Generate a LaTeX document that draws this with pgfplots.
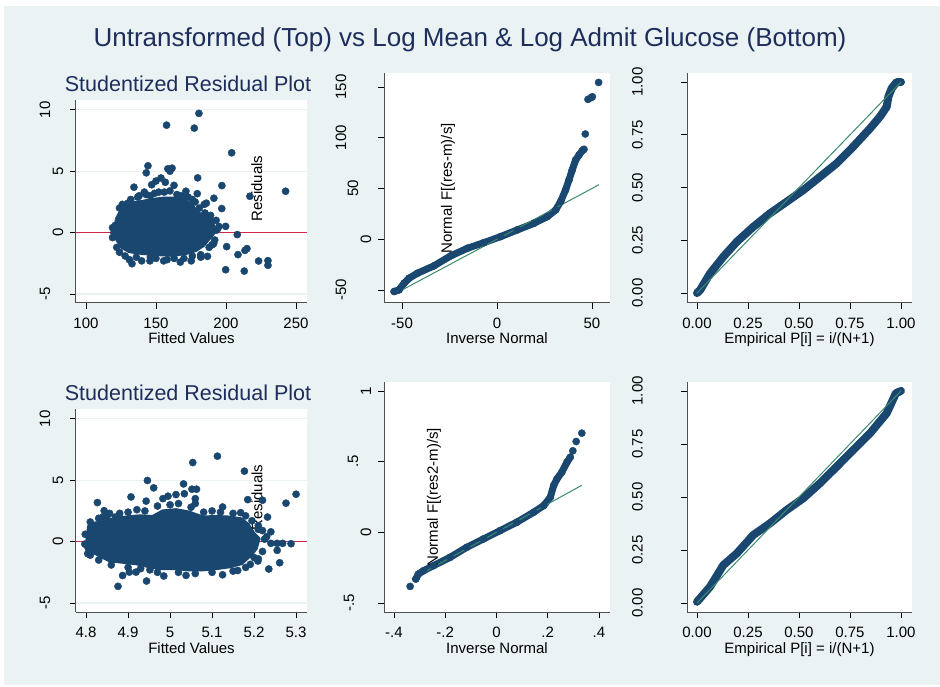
\documentclass[border=0pt]{standalone}
\usepackage{pgfplots}
\pgfplotsset{compat=1.18}
\usepackage{fontspec}
\setmainfont{Liberation Sans}
\definecolor{bg}{HTML}{EAF2F3}
\definecolor{navy}{HTML}{1A476F}
\definecolor{ttl}{HTML}{1E2E5C}
\definecolor{redl}{HTML}{D0264B}
\definecolor{grn}{HTML}{3D8B6D}
\definecolor{axc}{HTML}{505050}
\tikzset{ytl/.style={rotate=90, font=\fontsize{15}{18}\selectfont, inner sep=0pt}}
\pgfplotsset{
  stata/.style={
    scale only axis, clip=false,
    axis x line*=bottom, axis y line*=left,
    axis line style={axc, line width=1pt},
    tick align=outside,
    major tick length=6pt,
    tick style={black, line width=0.8pt},
    minor tick num=0,
    axis background/.style={fill=white},
    tick label style={font=\fontsize{15}{18}\selectfont, text=black},
    yticklabels={},
    xticklabel style={anchor=north, inner sep=0pt, yshift=-9pt},
    xlabel style={at={(axis description cs:0.5,0)}, anchor=base, yshift=-41pt, font=\fontsize{15}{18}\selectfont},
    title style={at={(axis description cs:0.5,1)}, anchor=base, yshift=2pt, xshift=-3.5pt, font=\fontsize{21.5}{24}\selectfont, text=ttl},
  },
  dots/.style={only marks, mark=*, mark size=3.6pt, color=navy, mark options={draw=navy, fill=navy, line width=0.4pt}},
  blob/.style={fill=navy, draw=navy, line width=3pt, line join=round, mark=none},
  band/.style={color=navy, line width=7pt, line cap=round, line join=round, mark=*, mark size=3.6pt, mark options={draw=navy, fill=navy, line width=0.4pt}},
  pband/.style={color=navy, line width=8pt, line cap=round, line join=round, mark=none},
  refl/.style={color=grn, line width=1pt, mark=none},
  zerol/.style={color=redl, line width=1.3pt, mark=none},
}
\begin{document}
\begin{tikzpicture}
\useasboundingbox (0pt,0pt) rectangle (940pt,686pt);
\fill[white] (0pt,0pt) rectangle (940pt,686pt);
\fill[bg] (4pt,1pt) rectangle (940pt,680pt);
\node[anchor=base, text=ttl, font=\fontsize{26}{30}\selectfont] at (470pt,639pt) {Untransformed (Top) vs Log Mean \& Log Admit Glucose (Bottom)};

% ---------- Panel 1: residuals vs fitted (untransformed)
\begin{axis}[stata, at={(76pt,383pt)}, anchor=south west, width=231pt, height=203pt,
  xmin=92.9, xmax=257.9, ymin=-5.73, ymax=10.8,
  xtick={100,150,200,250}, xticklabels={100,150,200,250},
  ytick={-5,0,5,10},
  ymajorgrids, grid style={bg, line width=1.2pt},
  xlabel={Fitted Values}, title={Studentized Residual Plot}]
\addplot[zerol] coordinates {(92.9,0) (257.9,0)};
\addplot[blob] coordinates {
(121.5,1.06) (124,1.6) (128,2.05) (134.5,2.45) (140.5,2.55) (147.6,2.7) (154.8,2.8)
(164.3,2.8) (171.4,2.55) (175.5,2.3) (179,1.74) (183,1.4) (187.5,1.0) (191,0.6)
(191.5,-0.03) (187.5,-0.57) (184,-1.05) (178.6,-1.45) (171.4,-1.7) (161.9,-1.85)
(152.4,-1.8) (140.5,-1.7) (131,-1.55) (125.5,-1.2) (122,-0.57) (121.5,1.06)};
\addplot[dots] coordinates {
(180.7,9.71) (157.6,8.75) (177.4,8.51) (204.1,6.5) (242.6,3.37) (217.1,2.96) (197.1,3.83)
(179.8,4.46) (197,1.96) (191.4,2.8) (144.3,5.44) (143.1,4.87) (158.5,5.2) (161.5,5.25)
(160,5.0) (134.3,3.7) (141.7,3.3) (156.7,4.1) (153.6,4.45) (147,3.9) (150,4.2) (162.9,3.85)
(171.4,3.37) (179.5,3.17) (184.5,2.3) (186,2.4) (199.8,0.51) (208.1,-0.16) (200.5,-1.14)
(191.2,-0.9) (213.6,-1.45) (215,-1.3) (208.6,-1.79) (199.8,-3.02) (213.1,-3.13) (223.3,-2.31)
(230,-2.28) (230,-2.66) (186.8,-1.93) (182,-2.0) (132.9,-2.53) (139.8,-2.3) (145.7,-2.3)
(155.5,-2.3) (167.4,-2.4) (175.2,-2.3) (193.2,0.2) (124,2.0) (130,2.4) (137,2.9) (146,3.0)
(152,3.3) (165,3.1) (170,2.9) (176,2.7) (186,1.3) (190,0.9) (195,0.5) (190,-1.0) (170,-2.1)
(150,-2.1) (128,-1.9) (122,-1.2) (120,0) (121,0.6)
(126,2.3) (132,2.7) (138,3.0) (143,3.1) (149,3.2) (156,3.3) (160,3.4) (168,3.0) (173,2.9)
(178,2.5) (181,2.0) (185,1.6) (189,1.4) (193,1.0) (194,0.3) (192,-0.6) (188,-1.2) (182,-1.8)
(176,-1.9) (163,-2.1) (158,-2.2) (146,-2.0) (136,-2.0) (131,-2.2) (124,-1.6) (119,-0.4) (119,0.4)};
\node[rotate=90, font=\fontsize{15}{18}\selectfont] at (axis cs:222.1,3.59) {Residuals};
\node[ytl] at ([xshift=-31pt]axis cs:92.9,10) {10};
\node[ytl] at ([xshift=-18pt]axis cs:92.9,5) {5};
\node[ytl] at ([xshift=-18pt]axis cs:92.9,0) {0};
\node[ytl] at ([xshift=-31pt]axis cs:92.9,-5) {-5};
\end{axis}

% ---------- Panel 2: qnorm (untransformed)
\begin{axis}[stata, at={(384pt,383pt)}, anchor=south west, width=226pt, height=230pt,
  xmin=-59.5, xmax=59.5, ymin=-62.8, ymax=163.8,
  xtick={-50,0,50}, xticklabels={-50,0,50},
  ytick={-50,0,50,100,150},
  xlabel={Inverse Normal}]
\addplot[band] coordinates {
(-54.2,-51.5) (-51.6,-49.9) (-48.9,-43.3) (-46.3,-38.4) (-41.9,-33.5) (-33.2,-26.2)
(-24.4,-16.4) (-15.6,-8.9) (-6.8,-3.3) (1.9,2.6) (10.7,9.2) (19.5,15.7) (26.5,22.3)
(30.9,28.9) (33.5,37.1) (36.1,48.6) (37.9,58.4) (39.6,68.2) (41.4,78.1) (43.2,83)
(44.9,87.3) (45.8,88.6)};
\addplot[dots] coordinates {(46.5,103.7) (47.9,137.8) (49.5,139.5) (50.2,140.4) (53.5,154.5)};
\addplot[refl] coordinates {(-53,-53) (53.7,53.7)};
\node[rotate=90, font=\fontsize{15}{18}\selectfont] at (axis cs:-25.8,50.2) {Normal F[(res-m)/s]};
\node[ytl] at ([xshift=-43pt]axis cs:-59.5,150) {150};
\node[ytl] at ([xshift=-43pt]axis cs:-59.5,100) {100};
\node[ytl] at ([xshift=-31pt]axis cs:-59.5,50) {50};
\node[ytl] at ([xshift=-18pt]axis cs:-59.5,0) {0};
\node[ytl] at ([xshift=-43pt]axis cs:-59.5,-50) {-50};
\end{axis}

% ---------- Panel 3: pnorm (untransformed)
\begin{axis}[stata, at={(687pt,383pt)}, anchor=south west, width=225pt, height=230pt,
  xmin=-0.049, xmax=1.054, ymin=-0.047, ymax=1.043,
  xtick={0,0.25,0.5,0.75,1}, xticklabels={0.00,0.25,0.50,0.75,1.00},
  ytick={0,0.25,0.5,0.75,1},
  xlabel={Empirical P[i] = i/(N+1)}]
\addplot[pband] coordinates {
(0,0) (0.015,0.014) (0.064,0.093) (0.129,0.172) (0.195,0.243) (0.276,0.314) (0.358,0.378)
(0.44,0.433) (0.521,0.488) (0.603,0.551) (0.685,0.615) (0.766,0.694) (0.848,0.78)
(0.897,0.836) (0.93,0.883) (0.938,0.93) (0.954,0.97) (0.979,1.0) (1.0,1.0)};
\addplot[refl] coordinates {(0,0) (1,1)};
\node[ytl] at ([xshift=-49.5pt]axis cs:-0.049,1) {1.00};
\node[ytl] at ([xshift=-49.5pt]axis cs:-0.049,0.75) {0.75};
\node[ytl] at ([xshift=-49.5pt]axis cs:-0.049,0.5) {0.50};
\node[ytl] at ([xshift=-49.5pt]axis cs:-0.049,0.25) {0.25};
\node[ytl] at ([xshift=-49.5pt]axis cs:-0.049,0) {0.00};
\end{axis}

% ---------- Panel 4: residuals vs fitted (log)
\begin{axis}[stata, at={(76pt,74pt)}, anchor=south west, width=231pt, height=203pt,
  xmin=4.776, xmax=5.326, ymin=-5.73, ymax=10.8,
  xtick={4.8,4.9,5,5.1,5.2,5.3}, xticklabels={4.8,4.9,5,5.1,5.2,5.3},
  ytick={-5,0,5,10},
  ymajorgrids, grid style={bg, line width=1.2pt},
  xlabel={Fitted Values}, title={Studentized Residual Plot}]
\addplot[zerol] coordinates {(4.776,0) (5.326,0)};
\addplot[blob] coordinates {
(4.802,0.11) (4.806,1.25) (4.8198,1.5) (4.8397,1.62) (4.8635,1.85) (4.8952,2.0) (4.927,2.1)
(4.9587,2.05) (4.9825,2.5) (5.0143,2.6) (5.046,2.4) (5.0778,2.0) (5.1095,2.05) (5.1413,2.0)
(5.17,1.85) (5.186,1.4) (5.2,0.65) (5.212,0.24) (5.205,-0.57) (5.194,-1.05) (5.17,-1.8)
(5.1413,-2.05) (5.1095,-2.2) (5.0778,-2.3) (5.046,-2.3) (5.0143,-2.2) (4.9825,-2.2)
(4.9508,-2.05) (4.919,-1.8) (4.8873,-1.68) (4.8556,-1.55) (4.8317,-1.15) (4.813,-0.8)
(4.804,-0.44) (4.802,0.11)};
\addplot[dots] coordinates {
(5.1127,6.96) (5.054,6.44) (5.177,5.74) (5.30,3.86) (5.276,3.13) (4.946,4.98) (4.961,4.38)
(4.907,3.64) (4.827,3.18) (5.032,4.7) (5.052,4.27) (5.063,4.27) (4.943,3.3) (4.983,3.5)
(4.995,3.7) (5.014,3.83) (5.034,3.9) (5.06,3.5) (5.06,3.1) (5.185,3.42) (5.22,3.37)
(5.125,2.82) (4.843,2.52) (4.921,2.6) (4.856,2.3) (5.168,2.36) (5.232,2.0) (5.24,-0.14)
(5.255,-0.14) (5.268,-0.14) (5.288,-0.17) (5.255,-0.71) (5.261,-1.72) (5.235,-2.23)
(5.209,-1.58) (5.191,-1.85) (4.876,-3.64) (4.944,-3.21) (4.887,-2.76) (4.903,-2.48)
(4.919,-2.48) (5.125,-2.7) (5.038,-2.75) (4.985,-2.8) (4.952,-2.3) (5.161,-2.35)
(4.805,-0.52) (4.804,-0.98) (5.22,0.9) (5.23,0.4) (5.21,1.3) (5.2,-1.3) (5.24,0.8)
(5.1,2.5) (5.0,3.0) (4.88,2.3) (4.84,2.0)
(4.81,1.6) (4.83,1.9) (4.85,2.1) (4.87,2.0) (4.9,2.4) (4.94,2.5) (4.97,2.9) (5.02,3.1)
(5.05,2.8) (5.08,2.4) (5.12,2.4) (5.15,2.3) (5.18,2.1) (5.195,1.7) (5.21,1.0) (5.225,0.2)
(5.22,-0.8) (5.21,-1.4) (5.18,-2.1) (5.15,-2.4) (5.1,-2.5) (5.06,-2.6) (5.02,-2.5)
(4.97,-2.5) (4.93,-2.2) (4.9,-2.1) (4.86,-1.9) (4.83,-1.5) (4.81,-1.1) (4.797,-0.2) (4.798,0.6)};
\node[rotate=90, font=\fontsize{15}{18}\selectfont] at (axis cs:5.207,3.59) {Residuals};
\node[ytl] at ([xshift=-31pt]axis cs:4.776,10) {10};
\node[ytl] at ([xshift=-18pt]axis cs:4.776,5) {5};
\node[ytl] at ([xshift=-18pt]axis cs:4.776,0) {0};
\node[ytl] at ([xshift=-31pt]axis cs:4.776,-5) {-5};
\end{axis}

% ---------- Panel 5: qnorm (log)
\begin{axis}[stata, at={(384pt,74pt)}, anchor=south west, width=226pt, height=230pt,
  xmin=-0.439, xmax=0.443, ymin=-0.564, ymax=1.064,
  xtick={-0.4,-0.2,0,0.2,0.4}, xticklabels={-.4,-.2,0,.2,.4},
  ytick={-0.5,0,0.5,1},
  xlabel={Inverse Normal}]
\addplot[dots] coordinates {(-0.337,-0.383)};
\addplot[band] coordinates {
(-0.315,-0.331) (-0.305,-0.296) (-0.285,-0.272) (-0.246,-0.236) (-0.181,-0.177)
(-0.116,-0.106) (-0.051,-0.047) (0.014,0.012) (0.079,0.071) (0.145,0.142) (0.184,0.189)
(0.21,0.248) (0.223,0.331) (0.236,0.378) (0.255,0.426) (0.275,0.496) (0.288,0.532)};
\addplot[dots] coordinates {(0.298,0.577) (0.311,0.643) (0.333,0.702)};
\addplot[refl] coordinates {(-0.33,-0.33) (0.333,0.333)};
\node[rotate=90, font=\fontsize{15}{18}\selectfont] at (axis cs:-0.244,0.248) {Normal F[(res2-m)/s]};
\node[ytl] at ([xshift=-18pt]axis cs:-0.439,1) {1};
\node[ytl] at ([xshift=-31pt]axis cs:-0.439,0.5) {.5};
\node[ytl] at ([xshift=-18pt]axis cs:-0.439,0) {0};
\node[ytl] at ([xshift=-35pt]axis cs:-0.439,-0.5) {-.5};
\end{axis}

% ---------- Panel 6: pnorm (log)
\begin{axis}[stata, at={(687pt,74pt)}, anchor=south west, width=225pt, height=230pt,
  xmin=-0.049, xmax=1.054, ymin=-0.042, ymax=1.042,
  xtick={0,0.25,0.5,0.75,1}, xticklabels={0.00,0.25,0.50,0.75,1.00},
  ytick={0,0.25,0.5,0.75,1},
  xlabel={Empirical P[i] = i/(N+1)}]
\addplot[pband] coordinates {
(0,0.006) (0.064,0.077) (0.129,0.179) (0.195,0.234) (0.276,0.321) (0.358,0.376) (0.44,0.439)
(0.521,0.494) (0.603,0.565) (0.685,0.643) (0.766,0.722) (0.848,0.80) (0.93,0.895)
(0.975,0.989) (1.0,1.0)};
\addplot[refl] coordinates {(0,0) (1,1)};
\node[ytl] at ([xshift=-49.5pt]axis cs:-0.049,1) {1.00};
\node[ytl] at ([xshift=-49.5pt]axis cs:-0.049,0.75) {0.75};
\node[ytl] at ([xshift=-49.5pt]axis cs:-0.049,0.5) {0.50};
\node[ytl] at ([xshift=-49.5pt]axis cs:-0.049,0.25) {0.25};
\node[ytl] at ([xshift=-49.5pt]axis cs:-0.049,0) {0.00};
\end{axis}
\end{tikzpicture}
\end{document}
